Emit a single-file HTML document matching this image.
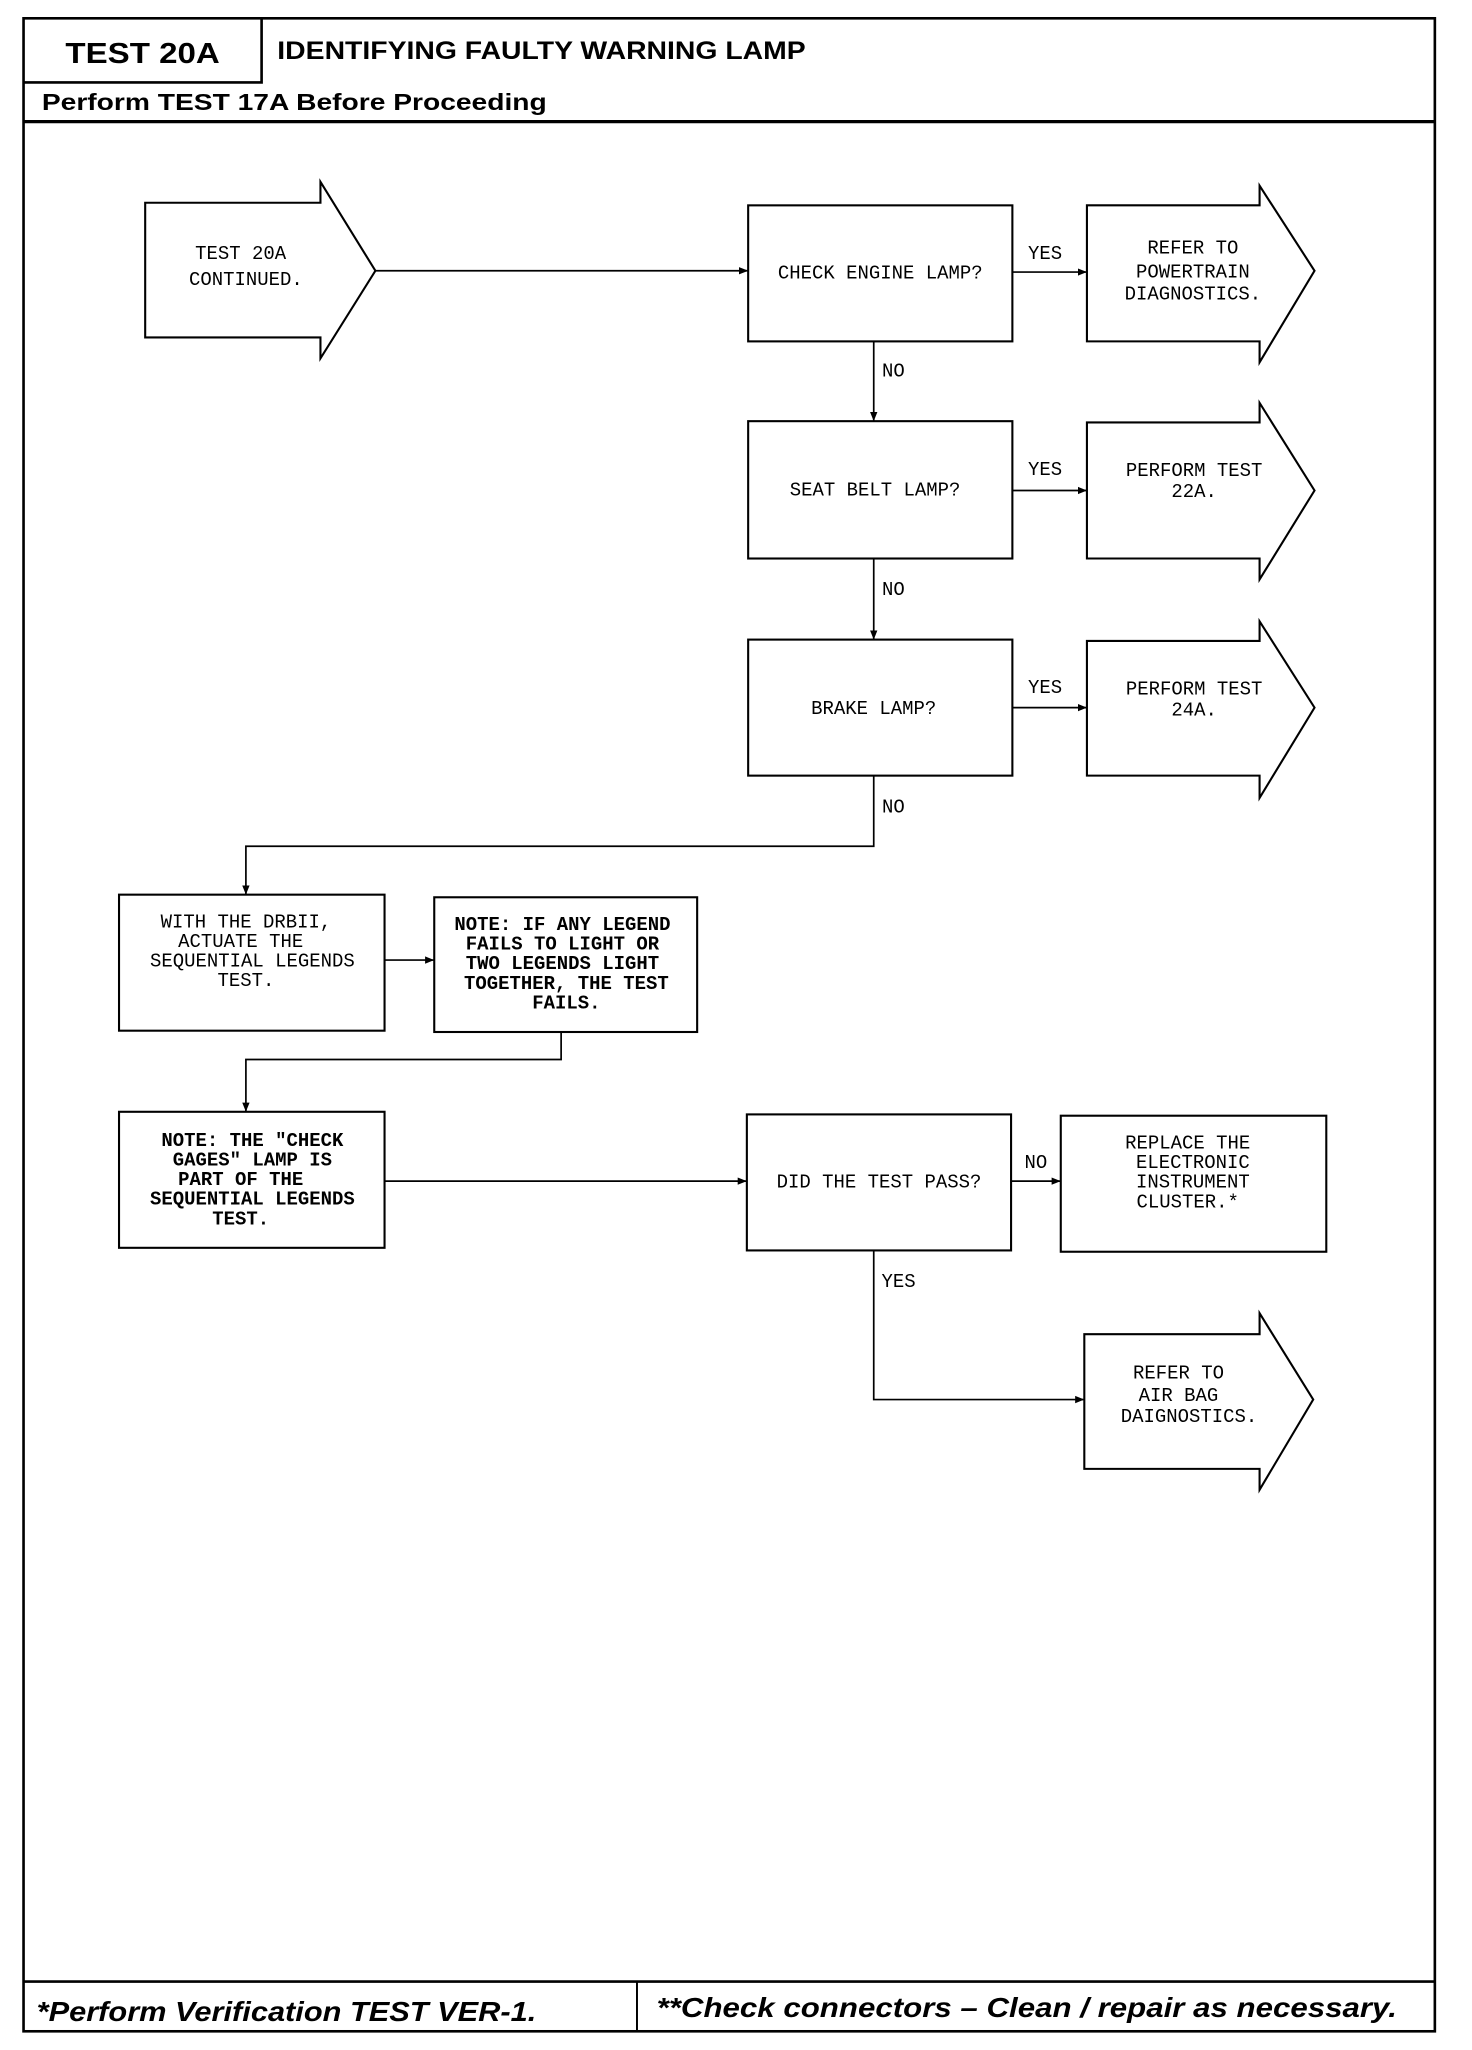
<!DOCTYPE html>
<html><head><meta charset="utf-8"><style>
html,body{margin:0;padding:0;background:#fff;}
svg{display:block;}
.t{font-family:"Liberation Mono",monospace;font-size:14.5px;fill:#000;text-anchor:middle;}
.b{font-weight:bold;}
.h{font-family:"Liberation Sans",sans-serif;font-weight:bold;fill:#000;}
</style></head><body>
<svg width="1472" height="2050" viewBox="0 0 1125.4 1567.3" preserveAspectRatio="none" xmlns="http://www.w3.org/2000/svg">
<defs><marker id="a" viewBox="0 0 10 10" refX="10" refY="5" markerWidth="7" markerHeight="7" orient="auto" markerUnits="userSpaceOnUse"><path d="M0,1 L10,5 L0,9 z" fill="#000"/></marker></defs>
<g fill="none" stroke="#000">
<rect x="18" y="14" width="1079" height="1539" stroke-width="2"/>
<polyline points="18,63 200,63 200,14" stroke-width="2"/>
<line x1="18" y1="93" x2="1097" y2="93" stroke-width="2.5"/>
<line x1="18" y1="1515" x2="1097" y2="1515" stroke-width="2"/>
<line x1="487" y1="1515" x2="487" y2="1553" stroke-width="1.5"/>
<g stroke-width="1.6">
<polygon points="111,155 245,155 245,139 287,207 245,274 245,258 111,258"/>
<polygon points="831,157 963,157 963,142 1005,207 963,277 963,261 831,261"/>
<polygon points="831,323 963,323 963,308 1005,375 963,443 963,427 831,427"/>
<polygon points="831,490 963,490 963,475 1005,541 963,610 963,593 831,593"/>
<polygon points="829,1020 963,1020 963,1004 1004,1070 963,1139 963,1123 829,1123"/>
<rect x="572" y="157" width="202" height="104"/>
<rect x="572" y="322" width="202" height="105"/>
<rect x="572" y="489" width="202" height="104"/>
<rect x="91" y="684" width="203" height="104"/>
<rect x="332" y="686" width="201" height="103"/>
<rect x="91" y="850" width="203" height="104"/>
<rect x="571" y="852" width="202" height="104"/>
<rect x="811" y="853" width="203" height="104"/>
</g>
<g stroke-width="1.3" marker-end="url(#a)">
<line x1="287" y1="207" x2="572" y2="207"/>
<line x1="774" y1="208" x2="831" y2="208"/>
<line x1="668" y1="261" x2="668" y2="322"/>
<line x1="774" y1="375" x2="831" y2="375"/>
<line x1="668" y1="427" x2="668" y2="489"/>
<line x1="774" y1="541" x2="831" y2="541"/>
<polyline points="668,593 668,647 188,647 188,684"/>
<line x1="294" y1="734" x2="332" y2="734"/>
<polyline points="429,789 429,810 188,810 188,850"/>
<line x1="294" y1="903" x2="571" y2="903"/>
<line x1="773" y1="903" x2="811" y2="903"/>
<polyline points="668,956 668,1070 829,1070"/>
</g>
</g>
<text class="h" x="50" y="48" font-size="22" textLength="118" lengthAdjust="spacingAndGlyphs">TEST 20A</text>
<text class="h" x="212" y="45" font-size="19" textLength="404" lengthAdjust="spacingAndGlyphs">IDENTIFYING FAULTY WARNING LAMP</text>
<text class="h" x="32" y="84" font-size="18" textLength="386" lengthAdjust="spacingAndGlyphs">Perform TEST 17A Before Proceeding</text>
<text class="h" x="28" y="1545" font-size="21" font-style="italic" textLength="382" lengthAdjust="spacingAndGlyphs">*Perform Verification TEST VER-1.</text>
<text class="h" x="502" y="1542" font-size="21" font-style="italic" textLength="566" lengthAdjust="spacingAndGlyphs">**Check connectors – Clean / repair as necessary.</text>
<g class="t">
<text x="184" y="198">TEST 20A</text><text x="188" y="218">CONTINUED.</text>
<text x="673" y="213">CHECK ENGINE LAMP?</text>
<text x="799" y="198">YES</text>
<text x="912" y="194">REFER TO</text><text x="912" y="212">POWERTRAIN</text><text x="912" y="229">DIAGNOSTICS.</text>
<text x="683" y="288">NO</text>
<text x="669" y="379">SEAT BELT LAMP?</text>
<text x="799" y="363">YES</text>
<text x="913" y="364">PERFORM TEST</text><text x="913" y="380">22A.</text>
<text x="683" y="455">NO</text>
<text x="668" y="546">BRAKE LAMP?</text>
<text x="799" y="530">YES</text>
<text x="913" y="531">PERFORM TEST</text><text x="913" y="547">24A.</text>
<text x="683" y="621">NO</text>
<text x="188" y="709">WITH THE DRBII,</text><text x="184" y="724">ACTUATE THE</text><text x="193" y="739">SEQUENTIAL LEGENDS</text><text x="188" y="754">TEST.</text>
<g class="b"><text x="430" y="711">NOTE: IF ANY LEGEND</text><text x="430" y="726">FAILS TO LIGHT OR</text><text x="430" y="741">TWO LEGENDS LIGHT</text><text x="433" y="756">TOGETHER, THE TEST</text><text x="433" y="771">FAILS.</text>
<text x="193" y="876">NOTE: THE "CHECK</text><text x="193" y="891">GAGES" LAMP IS</text><text x="184" y="906">PART OF THE</text><text x="193" y="921">SEQUENTIAL LEGENDS</text><text x="184" y="936">TEST.</text></g>
<text x="672" y="908">DID THE TEST PASS?</text>
<text x="792" y="893">NO</text>
<text x="908" y="878">REPLACE THE</text><text x="912" y="893">ELECTRONIC</text><text x="912" y="908">INSTRUMENT</text><text x="908" y="923">CLUSTER.*</text>
<text x="687" y="984">YES</text>
<text x="901" y="1054">REFER TO</text><text x="901" y="1071">AIR BAG</text><text x="909" y="1087">DAIGNOSTICS.</text>
</g>
</svg>
</body></html>
